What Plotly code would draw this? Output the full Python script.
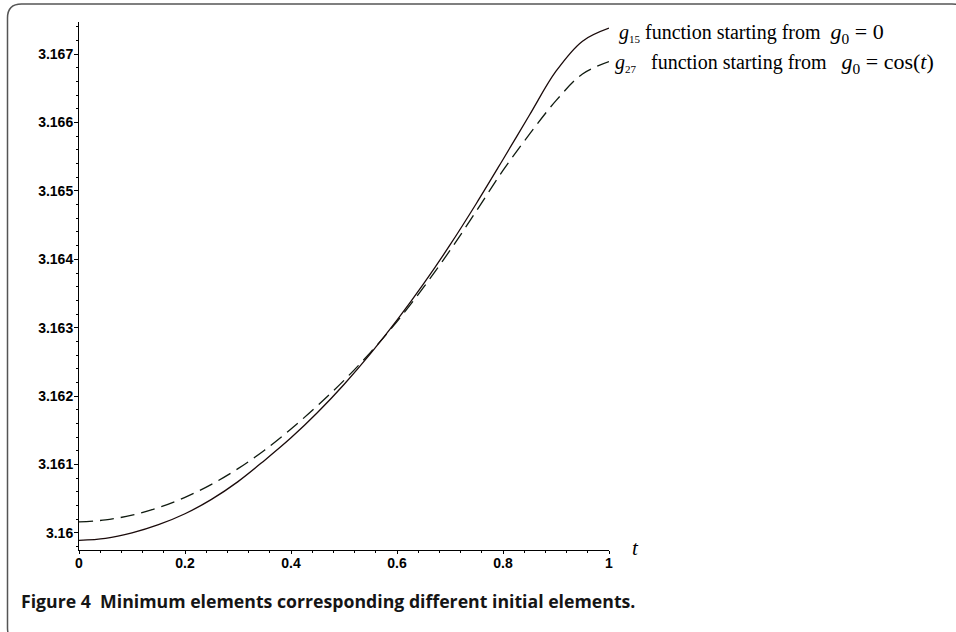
import plotly.graph_objects as go

# ---- data ----
t_vals = [0.0, 0.05, 0.10, 0.15, 0.20, 0.25, 0.30, 0.35, 0.40, 0.45, 0.50,
          0.55, 0.60, 0.65, 0.70, 0.75, 0.80, 0.85, 0.90, 0.95, 1.0]
g15_vals = [3.15989, 3.15992, 3.16000, 3.16012, 3.16028, 3.16049, 3.16075,
            3.16106, 3.16139, 3.16176, 3.16217, 3.16262, 3.16311, 3.16364,
            3.16421, 3.16482, 3.16546, 3.16611, 3.16675, 3.16719, 3.16738]
g27_vals = [3.16016, 3.16019, 3.16026, 3.16037, 3.16052, 3.16071, 3.16094,
            3.16121, 3.16152, 3.16186, 3.16223, 3.16264, 3.16309, 3.16359,
            3.16413, 3.16471, 3.16530, 3.16583, 3.16632, 3.16671, 3.16689]
x_tickvals = [0, 0.2, 0.4, 0.6, 0.8, 1]
x_ticktext = ["0", "0.2", "0.4", "0.6", "0.8", "1"]
y_tickvals = [3.160, 3.161, 3.162, 3.163, 3.164, 3.165, 3.166, 3.167]
y_ticktext = ["3.16", "3.161", "3.162", "3.163", "3.164", "3.165", "3.166", "3.167"]
legend1 = ("<i>g</i><sub><span style='font-size:11px'>15</span></sub> function starting from&nbsp;&nbsp;"
           "<span style='font-size:22px'><i>g</i><sub>0</sub> = 0</span>")
legend2 = ("<i>g</i><sub><span style='font-size:11px'>27</span></sub>&nbsp;&nbsp; function starting from&nbsp;&nbsp;&nbsp;"
           "<span style='font-size:22px'><i>g</i><sub>0</sub>&nbsp;=&nbsp;cos(<i>t</i>)</span>")
caption = "<b>Figure 4  Minimum elements corresponding different initial elements.</b>"

W, H = 956, 632
L, R, T, B = 79, 347, 22, 82
PW, PH = W - L - R, H - T - B

def px(x):
    return (x - L) / PW

def py(y):
    return (H - B - y) / PH

fig = go.Figure()
fig.add_trace(go.Scatter(x=t_vals, y=g27_vals, mode="lines",
                         line=dict(color="#0f1a0f", width=1.3, dash="14px,7px",
                                   shape="spline", smoothing=1.0),
                         showlegend=False, hoverinfo="skip"))
fig.add_trace(go.Scatter(x=t_vals, y=g15_vals, mode="lines",
                         line=dict(color="#1a0a0a", width=1.3,
                                   shape="spline", smoothing=1.0),
                         showlegend=False, hoverinfo="skip"))

tickfont = dict(family="Liberation Sans", size=14, color="black", weight="bold")
fig.update_xaxes(range=[0, 1], tickvals=x_tickvals, ticktext=x_ticktext,
                 showgrid=False, zeroline=False, showline=True, linecolor="black",
                 linewidth=1, ticks="outside", ticklen=3, tickcolor="black",
                 tickfont=tickfont, ticklabelstandoff=-3,
                 minor=dict(dtick=0.04, ticks="outside", ticklen=2, tickcolor="black"))
fig.update_yaxes(range=[3.15975, 3.16747], tickvals=y_tickvals, ticktext=y_ticktext,
                 showgrid=False, zeroline=False, showline=True, linecolor="black",
                 linewidth=1, ticks="outside", ticklen=4, tickcolor="black",
                 tickfont=tickfont, ticklabelstandoff=-2,
                 minor=dict(dtick=0.0002, ticks="outside", ticklen=2, tickcolor="black"))

# rounded border
x0, x1 = px(7.5), px(966)
y0, y1 = py(4), py(642)
rx, ry = 14 / PW, 14 / PH
path = (f"M {x0},{y1 + ry} L {x0},{y0 - ry} Q {x0},{y0} {x0 + rx},{y0} "
        f"L {x1 - rx},{y0} Q {x1},{y0} {x1},{y0 - ry} L {x1},{y1 + ry} "
        f"Q {x1},{y1} {x1 - rx},{y1} L {x0 + rx},{y1} Q {x0},{y1} {x0},{y1 + ry} Z")
fig.add_shape(type="path", path=path, xref="paper", yref="paper",
              line=dict(color="#555555", width=1.5), layer="below")

serif = dict(family="Liberation Serif", size=20, color="black")
fig.add_annotation(x=px(617), y=py(33), xref="paper", yref="paper", text=legend1,
                   showarrow=False, xanchor="left", yanchor="middle", font=serif)
fig.add_annotation(x=px(613), y=py(63), xref="paper", yref="paper", text=legend2,
                   showarrow=False, xanchor="left", yanchor="middle", font=serif)
fig.add_annotation(x=px(630), y=py(548), xref="paper", yref="paper", text="<i>t</i>",
                   showarrow=False, xanchor="left", yanchor="middle",
                   font=dict(family="Liberation Serif", size=21, color="black"))
fig.add_annotation(x=px(19), y=py(601), xref="paper", yref="paper", text=caption,
                   showarrow=False, xanchor="left", yanchor="middle",
                   font=dict(family="Open Sans", size=17.7, color="#151515"))

fig.update_layout(width=W, height=H, margin=dict(l=L, r=R, t=T, b=B),
                  paper_bgcolor="white", plot_bgcolor="white")
fig.write_html("out.html", config={"displayModeBar": False},
               post_script="document.body.style.margin='0px';")
